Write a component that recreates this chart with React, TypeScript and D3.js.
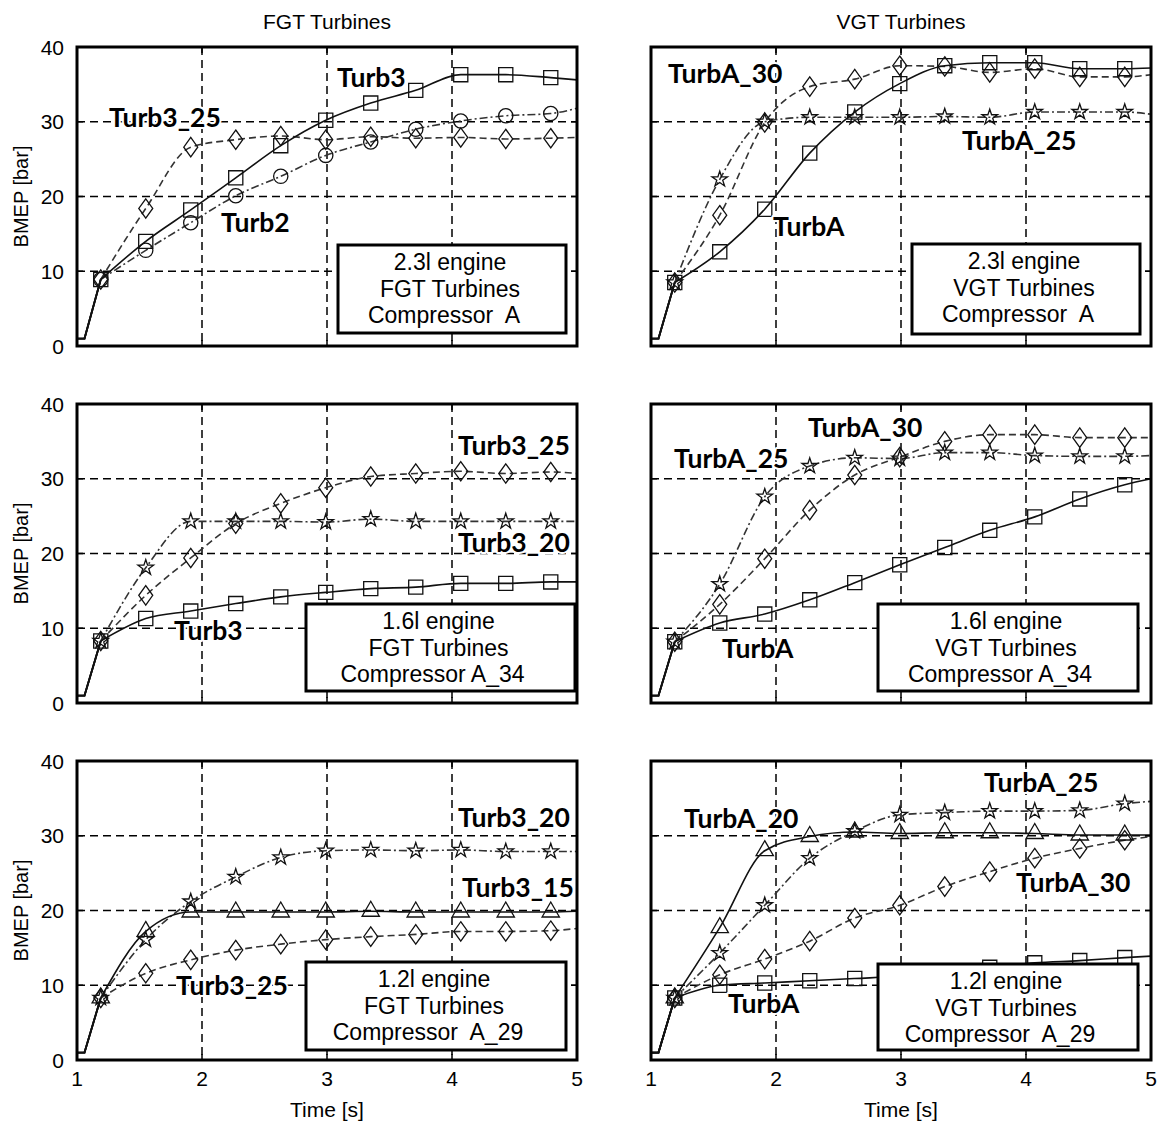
import { useEffect, useRef } from "react";
import * as d3 from "d3";

// sample times (s): two start points, then the marker times, then the end point
const times = [1.0, 1.06, 1.19, 1.55, 1.91, 2.27, 2.63, 2.99, 3.35, 3.71, 4.07, 4.43, 4.79, 5.0];
const xTicks = [1, 2, 3, 4, 5];
const yTicks = [0, 10, 20, 30, 40];
const columnTitles = ["FGT Turbines", "VGT Turbines"];

// 2.3l engine, FGT
const fgt23Turb3 = [1, 1, 8.9, 14.0, 18.2, 22.5, 26.8, 30.2, 32.5, 34.2, 36.3, 36.3, 35.9, 35.6];
const fgt23Turb3_25 = [1, 1, 8.9, 18.4, 26.6, 27.6, 28.1, 27.6, 28.0, 27.8, 27.9, 27.7, 27.8, 27.9];
const fgt23Turb2 = [1, 1, 8.9, 12.8, 16.5, 20.1, 22.7, 25.5, 27.3, 29.0, 30.1, 30.8, 31.1, 31.8];
// 2.3l engine, VGT
const vgt23TurbA = [1, 1, 8.5, 12.6, 18.3, 25.8, 31.3, 35.1, 37.5, 37.9, 37.9, 37.1, 37.1, 37.2];
const vgt23TurbA_30 = [1, 1, 8.5, 17.5, 29.9, 34.7, 35.7, 37.5, 37.4, 36.6, 37.1, 36.0, 36.0, 36.3];
const vgt23TurbA_25 = [1, 1, 8.5, 22.3, 30.0, 30.6, 30.6, 30.6, 30.7, 30.6, 31.3, 31.3, 31.3, 31.0];
// 1.6l engine, FGT
const fgt16Turb3 = [1, 1, 8.3, 11.3, 12.3, 13.3, 14.2, 14.8, 15.3, 15.5, 16.0, 16.0, 16.2, 16.2];
const fgt16Turb3_25 = [1, 1, 8.3, 14.4, 19.4, 24.0, 26.7, 28.8, 30.3, 30.7, 31.0, 30.7, 30.9, 30.7];
const fgt16Turb3_20 = [1, 1, 8.3, 18.1, 24.3, 24.3, 24.3, 24.2, 24.6, 24.3, 24.3, 24.3, 24.3, 24.3];
// 1.6l engine, VGT
const vgt16TurbA = [1, 1, 8.2, 10.7, 11.9, 13.8, 16.1, 18.5, 20.8, 23.1, 24.9, 27.3, 29.2, 30.0];
const vgt16TurbA_30 = [1, 1, 8.2, 13.2, 19.3, 25.8, 30.5, 32.9, 35.0, 35.9, 35.9, 35.5, 35.5, 35.5];
const vgt16TurbA_25 = [1, 1, 8.2, 15.9, 27.6, 31.7, 32.8, 32.7, 33.5, 33.5, 33.1, 33.0, 33.0, 33.1];
// 1.2l engine, FGT
const fgt12Turb3_15 = [1, 1, 8.3, 17.2, 19.8, 19.8, 19.8, 19.8, 19.9, 19.8, 19.8, 19.8, 19.8, 19.9];
const fgt12Turb3_20 = [1, 1, 8.3, 16.1, 21.2, 24.5, 27.1, 28.0, 28.1, 28.0, 28.1, 27.9, 27.9, 27.9];
const fgt12Turb3_25 = [1, 1, 8.3, 11.6, 13.4, 14.7, 15.5, 16.1, 16.5, 16.8, 17.2, 17.2, 17.3, 17.6];
// 1.2l engine, VGT
const vgt12TurbA_20 = [1, 1, 8.3, 17.7, 28.0, 29.9, 30.5, 30.3, 30.4, 30.4, 30.3, 30.1, 30.1, 30.1];
const vgt12TurbA_25 = [1, 1, 8.3, 14.3, 20.7, 27.0, 30.6, 32.8, 33.1, 33.3, 33.3, 33.4, 34.3, 34.6];
const vgt12TurbA_30 = [1, 1, 8.3, 11.4, 13.5, 15.9, 19.0, 20.7, 23.2, 25.2, 27.0, 28.3, 29.4, 29.9];
const vgt12TurbA = [1, 1, 8.3, 10.0, 10.3, 10.6, 10.9, 11.2, 11.7, 12.4, 13.0, 13.3, 13.7, 13.9];

const colX = [77, 651];
const rowY = [47, 404, 761];
const W = 500;
const H = 299;

const panels = [
  {
    col: 0, row: 0,
    series: [
      { values: fgt23Turb2, dash: "dashdot", marker: "circle" },
      { values: fgt23Turb3_25, dash: "dash", marker: "diamond" },
      { values: fgt23Turb3, dash: "solid", marker: "square" },
    ],
    labels: [["Turb3", 260, 40], ["Turb3_25", 32, 80], ["Turb2", 144, 185]],
    box: [261, 198, 228, 88],
    boxText: ["2.3l engine", "FGT Turbines", "Compressor  A"],
  },
  {
    col: 1, row: 0,
    series: [
      { values: vgt23TurbA_25, dash: "dashdot", marker: "star" },
      { values: vgt23TurbA_30, dash: "dash", marker: "diamond" },
      { values: vgt23TurbA, dash: "solid", marker: "square" },
    ],
    labels: [["TurbA_30", 17, 36], ["TurbA_25", 311, 103], ["TurbA", 122, 189]],
    box: [261, 197, 228, 90],
    boxText: ["2.3l engine", "VGT Turbines", "Compressor  A"],
  },
  {
    col: 0, row: 1,
    series: [
      { values: fgt16Turb3_20, dash: "dashdot", marker: "star" },
      { values: fgt16Turb3_25, dash: "dash", marker: "diamond" },
      { values: fgt16Turb3, dash: "solid", marker: "square" },
    ],
    labels: [["Turb3_25", 381, 51], ["Turb3_20", 381, 148], ["Turb3", 97, 236]],
    box: [229, 200, 269, 87],
    boxText: ["1.6l engine", "FGT Turbines", "Compressor A_34"],
  },
  {
    col: 1, row: 1,
    series: [
      { values: vgt16TurbA_25, dash: "dashdot", marker: "star" },
      { values: vgt16TurbA_30, dash: "dash", marker: "diamond" },
      { values: vgt16TurbA, dash: "solid", marker: "square" },
    ],
    labels: [["TurbA_30", 157, 33], ["TurbA_25", 23, 64], ["TurbA", 71, 254]],
    box: [227, 200, 260, 87],
    boxText: ["1.6l engine", "VGT Turbines", "Compressor A_34"],
  },
  {
    col: 0, row: 2,
    series: [
      { values: fgt12Turb3_25, dash: "dash", marker: "diamond" },
      { values: fgt12Turb3_20, dash: "dashdot", marker: "star" },
      { values: fgt12Turb3_15, dash: "solid", marker: "triangle" },
    ],
    labels: [["Turb3_20", 381, 66], ["Turb3_15", 385, 136], ["Turb3_25", 99, 234]],
    box: [229, 201, 260, 88],
    boxText: ["1.2l engine", "FGT Turbines", "Compressor  A_29"],
  },
  {
    col: 1, row: 2,
    series: [
      { values: vgt12TurbA, dash: "solid", marker: "square" },
      { values: vgt12TurbA_30, dash: "dash", marker: "diamond" },
      { values: vgt12TurbA_25, dash: "dashdot", marker: "star" },
      { values: vgt12TurbA_20, dash: "solid", marker: "triangle" },
    ],
    labels: [["TurbA_25", 333, 31], ["TurbA_20", 33, 67], ["TurbA_30", 365, 131], ["TurbA", 77, 252]],
    box: [227, 203, 260, 86],
    boxText: ["1.2l engine", "VGT Turbines", "Compressor  A_29"],
  },
];

// matlab-like diamond: a bit wider than d3's
const tallDiamond: d3.SymbolType = {
  draw(ctx, size) {
    const h = Math.sqrt(size) * 0.85;
    const w = h * 0.72;
    ctx.moveTo(0, -h);
    ctx.lineTo(w, 0);
    ctx.lineTo(0, h);
    ctx.lineTo(-w, 0);
    ctx.closePath();
  },
};

const dashes: Record<string, string | null> = { solid: null, dash: "7,4", dashdot: "8,3,2,3" };
const symbols: Record<string, [d3.SymbolType, number]> = {
  square: [d3.symbolSquare, 200],
  diamond: [tallDiamond, 130],
  circle: [d3.symbolCircle, 160],
  star: [d3.symbolStar, 75],
  triangle: [d3.symbolTriangle, 130],
};

const App = () => {
  const svgRef = useRef<SVGSVGElement>(null);
  useEffect(() => {
    const svg = d3.select(svgRef.current);
    svg.selectAll("*").remove();
    const font = "'Liberation Sans', Arial, sans-serif";

    const x = d3.scaleLinear().domain([1, 5]).range([0, W]);
    const y = d3.scaleLinear().domain([0, 40]).range([H, 0]);
    const lineStart = d3
      .line<number>()
      .x((d, i) => x(times[i]))
      .y((d) => y(d));
    const lineRest = d3
      .line<number>()
      .x((d, i) => x(times[i + 2]))
      .y((d) => y(d))
      .curve(d3.curveMonotoneX);

    // column titles and x labels
    columnTitles.forEach((t, c) => {
      svg.append("text").attr("x", colX[c] + W / 2).attr("y", 29)
        .attr("text-anchor", "middle").attr("font-family", font).attr("font-size", 21).text(t);
      svg.append("text").attr("x", colX[c] + W / 2).attr("y", 1117)
        .attr("text-anchor", "middle").attr("font-family", font).attr("font-size", 21).text("Time [s]");
    });

    panels.forEach((p) => {
      const g = svg.append("g").attr("transform", `translate(${colX[p.col]},${rowY[p.row]})`);

      // grid
      g.selectAll(".gx").data(xTicks.slice(1, -1)).join("line")
        .attr("x1", (d) => x(d)).attr("x2", (d) => x(d)).attr("y1", 0).attr("y2", H)
        .attr("stroke", "#000").attr("stroke-width", 1.5).attr("stroke-dasharray", "8,5");
      g.selectAll(".gy").data(yTicks.slice(1, -1)).join("line")
        .attr("x1", 0).attr("x2", W).attr("y1", (d) => y(d)).attr("y2", (d) => y(d))
        .attr("stroke", "#000").attr("stroke-width", 1.5).attr("stroke-dasharray", "8,5");

      // series
      p.series.forEach((s) => {
        g.append("path").attr("d", lineStart(s.values.slice(0, 3)))
          .attr("fill", "none").attr("stroke", "#111").attr("stroke-width", 1.8);
        g.append("path").attr("d", lineRest(s.values.slice(2)))
          .attr("fill", "none")
          .attr("stroke", s.dash === "solid" ? "#111" : "#333")
          .attr("stroke-width", 1.6)
          .attr("stroke-dasharray", dashes[s.dash]);
        const [type, size] = symbols[s.marker];
        const sym = d3.symbol().type(type).size(size);
        g.selectAll(null).data(s.values.slice(2, -1)).join("path")
          .attr("d", sym())
          .attr("transform", (d, i) => `translate(${x(times[i + 2])},${y(d)})`)
          .attr("fill", "none").attr("stroke", "#111").attr("stroke-width", 1.3);
      });

      // frame + inward ticks
      g.append("rect").attr("width", W).attr("height", H)
        .attr("fill", "none").attr("stroke", "#000").attr("stroke-width", 3);
      xTicks.slice(1, -1).forEach((t) => {
        g.append("line").attr("x1", x(t)).attr("x2", x(t)).attr("y1", 0).attr("y2", 6).attr("stroke", "#000").attr("stroke-width", 1.5);
        g.append("line").attr("x1", x(t)).attr("x2", x(t)).attr("y1", H).attr("y2", H - 6).attr("stroke", "#000").attr("stroke-width", 1.5);
      });
      yTicks.slice(1, -1).forEach((t) => {
        g.append("line").attr("x1", 0).attr("x2", 6).attr("y1", y(t)).attr("y2", y(t)).attr("stroke", "#000").attr("stroke-width", 1.5);
        g.append("line").attr("x1", W).attr("x2", W - 6).attr("y1", y(t)).attr("y2", y(t)).attr("stroke", "#000").attr("stroke-width", 1.5);
      });

      // axis labels
      if (p.col === 0) {
        g.selectAll(".yl").data(yTicks).join("text")
          .attr("x", -13).attr("y", (d) => y(d)).attr("dy", "0.36em")
          .attr("text-anchor", "end").attr("font-family", font).attr("font-size", 21)
          .text((d) => d);
        g.append("text")
          .attr("transform", `translate(-49,${H / 2}) rotate(-90)`)
          .attr("text-anchor", "middle").attr("font-family", font).attr("font-size", 20)
          .text("BMEP [bar]");
      }
      if (p.row === 2) {
        g.selectAll(".xl").data(xTicks).join("text")
          .attr("x", (d) => x(d)).attr("y", H + 26)
          .attr("text-anchor", "middle").attr("font-family", font).attr("font-size", 21)
          .text((d) => d);
      }

      // info box
      const [bx, by, bw, bh] = p.box;
      g.append("rect").attr("x", bx).attr("y", by).attr("width", bw).attr("height", bh)
        .attr("fill", "#fff").attr("stroke", "#000").attr("stroke-width", 3);
      p.boxText.forEach((t, i) => {
        g.append("text").attr("x", bx + bw / 2 - (i === 2 ? 8 : 2)).attr("y", by + 25 + i * 26.5)
          .attr("text-anchor", "middle").attr("font-family", font).attr("font-size", 23)
          .style("white-space", "pre").text(t);
      });

      // series labels
      p.labels.forEach(([t, lx, ly]) => {
        g.append("text").attr("x", lx).attr("y", ly)
          .attr("font-family", "Lato, 'Open Sans', sans-serif").attr("font-weight", 700).attr("font-size", 26.5)
          .attr("stroke", "#fff").attr("stroke-width", 4).attr("stroke-linejoin", "round")
          .attr("paint-order", "stroke").attr("fill", "#000").text(t as string);
      });
    });
  }, []);

  return (
    <svg
      ref={svgRef}
      width={1159}
      height={1128}
      style={{ position: "absolute", left: 0, top: 0, background: "#fff", display: "block" }}
    ></svg>
  );
};

export default App;
